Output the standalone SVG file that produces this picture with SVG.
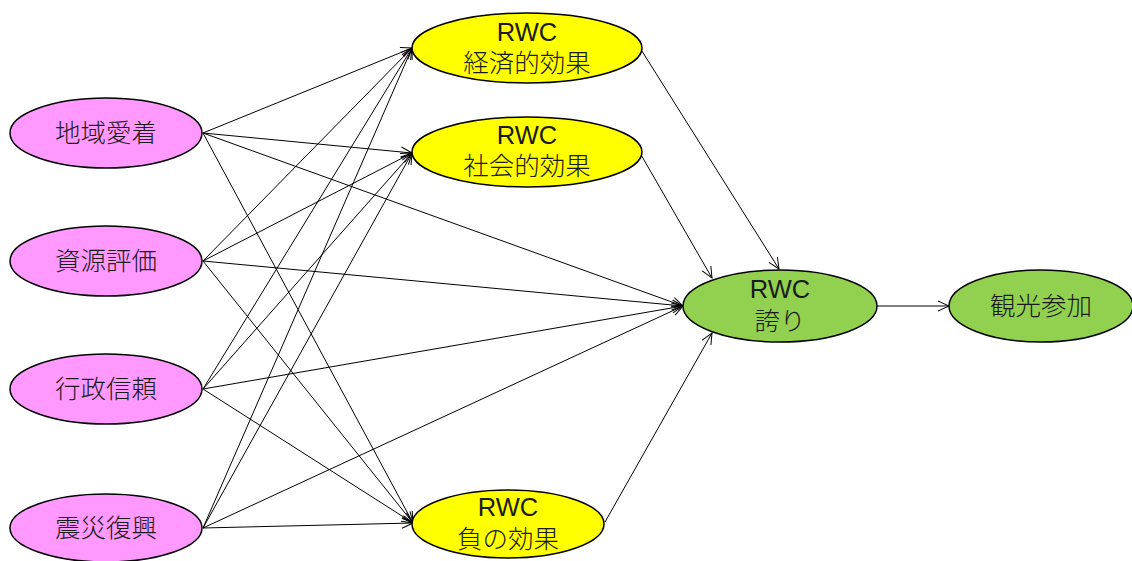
<svg xmlns="http://www.w3.org/2000/svg" xml:lang="ja" lang="ja" width="1132" height="561" viewBox="0 0 1132 561">
<style>
.pink{fill:#ff99ff;stroke:#000;stroke-width:1.5}
.yellow{fill:#ffff00;stroke:#000;stroke-width:1.5}
.green{fill:#92d050;stroke:#000;stroke-width:1.5}
text{font-family:"Liberation Sans","Noto Sans CJK JP",sans-serif;font-size:25.5px;font-weight:300;fill:#1a1a1a;text-anchor:middle}
#edges line{stroke:#000;stroke-width:1;marker-end:url(#ah)}
</style>
<defs>
<marker id="ah" markerUnits="userSpaceOnUse" markerWidth="14" markerHeight="12" refX="12" refY="6" orient="auto">
<path d="M1,1 L12,6 L1,11" fill="none" stroke="#000" stroke-width="1"/>
</marker>
</defs>
<rect width="1132" height="561" fill="#fff"/>
<g id="edges">
<line x1="203" y1="133" x2="412" y2="48"/>
<line x1="203" y1="133" x2="412" y2="153"/>
<line x1="203" y1="133" x2="413" y2="523"/>
<line x1="203" y1="133" x2="683" y2="306"/>
<line x1="203" y1="261" x2="412" y2="48"/>
<line x1="203" y1="261" x2="412" y2="153"/>
<line x1="203" y1="261" x2="413" y2="523"/>
<line x1="203" y1="261" x2="683" y2="306"/>
<line x1="203" y1="389" x2="412" y2="48"/>
<line x1="203" y1="389" x2="412" y2="153"/>
<line x1="203" y1="389" x2="413" y2="523"/>
<line x1="203" y1="389" x2="683" y2="306"/>
<line x1="203" y1="528" x2="412" y2="48"/>
<line x1="203" y1="528" x2="412" y2="153"/>
<line x1="203" y1="528" x2="413" y2="523"/>
<line x1="203" y1="528" x2="683" y2="306"/>
<line x1="640" y1="48" x2="779" y2="269"/>
<line x1="640" y1="153" x2="712" y2="278"/>
<line x1="605" y1="522" x2="712" y2="333"/>
<line x1="876" y1="306" x2="949" y2="306"/>
</g>
<g id="n_chiiki"><ellipse class="pink" cx="106" cy="133" rx="96" ry="35"/><text x="106" y="142">地域愛着</text></g>
<g id="n_shigen"><ellipse class="pink" cx="106" cy="261" rx="96" ry="35"/><text x="106" y="270">資源評価</text></g>
<g id="n_gyosei"><ellipse class="pink" cx="106" cy="389" rx="96" ry="35"/><text x="106" y="398">行政信頼</text></g>
<g id="n_shinsai"><ellipse class="pink" cx="106" cy="528" rx="96" ry="34"/><text x="106" y="537">震災復興</text></g>
<g id="n_keizai"><ellipse class="yellow" cx="527" cy="48" rx="115" ry="35"/><text x="527" y="41">RWC</text><text x="527" y="72">経済的効果</text></g>
<g id="n_shakai"><ellipse class="yellow" cx="527" cy="152" rx="115" ry="35"/><text x="527" y="144">RWC</text><text x="527" y="175">社会的効果</text></g>
<g id="n_fu"><ellipse class="yellow" cx="508" cy="524" rx="96" ry="34"/><text x="508" y="516">RWC</text><text x="508" y="548">負の効果</text></g>
<g id="n_hokori"><ellipse class="green" cx="780" cy="306" rx="97" ry="36"/><text x="780" y="298">RWC</text><text x="780" y="330">誇り</text></g>
<g id="n_kanko"><ellipse class="green" cx="1041" cy="306" rx="92" ry="36"/><text x="1041" y="315">観光参加</text></g>
</svg>
